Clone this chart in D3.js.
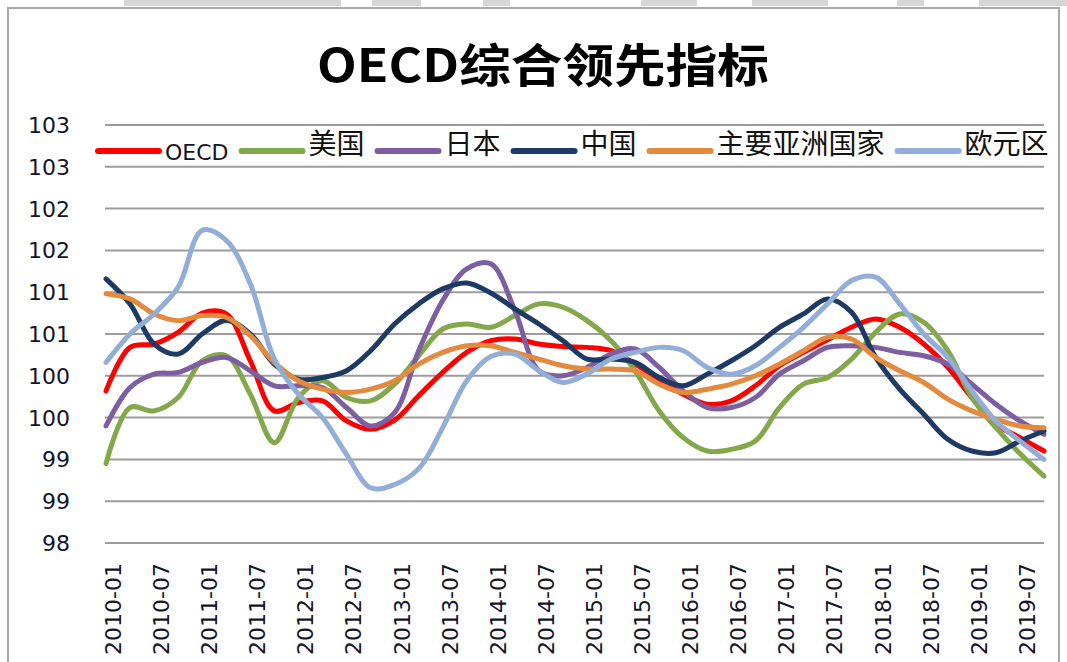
<!DOCTYPE html>
<html lang="zh">

<head>
    <meta charset="UTF-8">
    <title>OECD综合领先指标</title>

    <script src="https://d3js.org/d3.v7.min.js"></script>

    <style>
        body {
            margin: 0;
            background: #fff;
        }

        .tick-label {
            font-family: "DejaVu Sans", Verdana, sans-serif;
            font-size: 22px;
            fill: #141428;
        }

        .legend-cjk {
            font-family: "Noto Sans CJK SC", sans-serif;
            font-size: 28px;
            fill: #111;
        }

        .legend-latin {
            font-family: "DejaVu Sans", Verdana, sans-serif;
            font-size: 22px;
            fill: #141428;
        }
    </style>

</head>

<body>
    <svg width="1067" height="662"></svg>

    <script>
        // months on the category axis, 2010-01 .. 2019-10
        const months = [];
        for (let y = 2010; y <= 2019; y++) {
            for (let m = 1; m <= 12; m++) {
                if (y === 2019 && m > 10) break;
                months.push(y + "-" + String(m).padStart(2, "0"));
            }
        }
        // values (Jan, Apr, Jul, Oct)
        const sampleMonths = months.filter((d, i) => i % 3 === 0);

        const seriesNames = ["OECD", "美国", "日本", "中国", "主要亚洲国家", "欧元区"];
        const seriesColors = ["#ff0000", "#82a84a", "#7d5fa1", "#1c3a63", "#e38a3e", "#93aed6"];

        const oecd = [99.82, 100.34, 100.38, 100.52, 100.75, 100.74, 100.18, 99.58, 99.68, 99.70,
            99.46, 99.36, 99.47, 99.76, 100.04, 100.28, 100.42, 100.44, 100.38, 100.35,
            100.34, 100.30, 100.14, 99.96, 99.78, 99.66, 99.70, 99.88, 100.12, 100.28,
            100.43, 100.58, 100.68, 100.58, 100.38, 100.10, 99.74, 99.42, 99.26, 99.10];
        const usa = [98.95, 99.62, 99.58, 99.74, 100.18, 100.24, 99.78, 99.20, 99.74, 99.94,
            99.74, 99.70, 99.90, 100.24, 100.56, 100.62, 100.58, 100.72, 100.86, 100.82,
            100.66, 100.42, 100.06, 99.58, 99.26, 99.10, 99.12, 99.22, 99.62, 99.90,
            99.98, 100.20, 100.52, 100.74, 100.64, 100.30, 99.74, 99.38, 99.07, 98.80];
        const japan = [99.40, 99.86, 100.02, 100.04, 100.16, 100.22, 100.06, 99.88, 99.88, 99.86,
            99.62, 99.40, 99.56, 100.30, 100.90, 101.28, 101.34, 100.78, 100.06, 100.00,
            100.10, 100.26, 100.32, 100.10, 99.82, 99.62, 99.62, 99.74, 100.02, 100.18,
            100.34, 100.36, 100.34, 100.28, 100.24, 100.14, 99.90, 99.66, 99.46, 99.30];
        const china = [101.16, 100.86, 100.38, 100.26, 100.50, 100.66, 100.50, 100.14, 99.96, 99.98,
            100.06, 100.30, 100.62, 100.86, 101.04, 101.11, 100.99, 100.80, 100.62, 100.42,
            100.20, 100.20, 100.16, 99.98, 99.88, 100.02, 100.18, 100.36, 100.58, 100.74,
            100.92, 100.76, 100.22, 99.84, 99.54, 99.24, 99.10, 99.08, 99.22, 99.34];
        const asia = [100.98, 100.92, 100.74, 100.66, 100.72, 100.70, 100.48, 100.16, 99.94, 99.84,
            99.80, 99.84, 99.94, 100.14, 100.28, 100.36, 100.36, 100.28, 100.20, 100.12,
            100.08, 100.08, 100.06, 99.90, 99.80, 99.84, 99.90, 100.00, 100.14, 100.30,
            100.46, 100.44, 100.22, 100.06, 99.92, 99.72, 99.58, 99.48, 99.40, 99.38];
        const euro = [100.16, 100.50, 100.74, 101.06, 101.74, 101.62, 101.10, 100.20, 99.78, 99.50,
            99.06, 98.66, 98.70, 98.89, 99.38, 99.94, 100.23, 100.26, 100.06, 99.92,
            100.02, 100.20, 100.28, 100.34, 100.30, 100.10, 100.02, 100.12, 100.34, 100.58,
            100.86, 101.14, 101.18, 100.86, 100.50, 100.22, 99.82, 99.46, 99.22, 99.00];
        const seriesValues = [oecd, usa, japan, china, asia, euro];

        const yTicks = [98, 98.5, 99, 99.5, 100, 100.5, 101, 101.5, 102, 102.5, 103];
        const yTickLabels = ["98", "99", "99", "100", "100", "101", "101", "102", "102", "103", "103"];
        const xTickLabels = months.filter((d, i) => i % 6 === 0);

        const svg = d3.select("svg");

        // frame of the chart area and the sheet strip above it
        const strip = [[124, 217], [372, 49], [483, 27], [641, 56], [752, 76], [897, 27], [979, 88]];
        svg.selectAll(".strip").data(strip).enter().append("rect")
            .attr("x", d => d[0]).attr("y", 0).attr("width", d => d[1]).attr("height", 6)
            .attr("fill", "#d6d6d6");
        svg.append("rect")
            .attr("x", 8).attr("y", 8).attr("width", 1051).attr("height", 680)
            .attr("fill", "#fff").attr("stroke", "#a8a8a8").attr("stroke-width", 2);

        const x = d3.scalePoint().domain(months).range([106, 1044]);
        const y = d3.scaleLinear().domain([98, 103]).range([543, 125]);

        // gridlines
        svg.append("g").selectAll("line").data(yTicks).enter().append("line")
            .attr("x1", 105).attr("x2", 1044)
            .attr("y1", d => y(d)).attr("y2", d => y(d))
            .attr("stroke", "#9c9c9c").attr("stroke-width", 2);

        // y tick labels
        svg.append("g").selectAll("text").data(yTicks).enter().append("text")
            .attr("class", "tick-label")
            .attr("x", 70).attr("y", d => y(d)).attr("dy", "0.36em")
            .attr("text-anchor", "end")
            .text((d, i) => yTickLabels[i]);

        // x tick labels, rotated
        svg.append("g").selectAll("text").data(xTickLabels).enter().append("text")
            .attr("class", "tick-label")
            .attr("transform", d => `translate(${x(d) + 7},563) rotate(-90)`)
            .attr("dy", "0.36em")
            .attr("text-anchor", "end")
            .text(d => d);

        // series lines
        const line = d3.line()
            .x((d, i) => x(sampleMonths[i]))
            .y(d => y(d))
            .curve(d3.curveCatmullRom.alpha(0.5));

        svg.append("g").selectAll("path").data(seriesValues).enter().append("path")
            .attr("d", d => line(d))
            .attr("fill", "none")
            .attr("stroke", (d, i) => seriesColors[i])
            .attr("stroke-width", 5)
            .attr("stroke-linejoin", "round")
            .attr("stroke-linecap", "round");

        // title
        svg.append("text")
            .attr("x", 543).attr("y", 82)
            .attr("text-anchor", "middle")
            .attr("font-family", "'Noto Sans CJK SC', sans-serif")
            .attr("font-weight", "bold")
            .attr("font-size", 46)
            .attr("textLength", 452)
            .attr("lengthAdjust", "spacingAndGlyphs")
            .attr("fill", "#000")
            .text("OECD综合领先指标");

        // legend
        const legend = svg.append("g");
        let lx = 98;
        seriesNames.forEach(function (name, i) {
            legend.append("line")
                .attr("x1", lx).attr("x2", lx + 61)
                .attr("y1", 151).attr("y2", 151)
                .attr("stroke", seriesColors[i])
                .attr("stroke-width", 6)
                .attr("stroke-linecap", "round");
            const latin = /^[A-Z]+$/.test(name);
            const t = legend.append("text")
                .attr("class", latin ? "legend-latin" : "legend-cjk")
                .attr("x", lx + 67)
                .attr("y", latin ? 160 : 154)
                .text(name);
            lx += 67 + t.node().getComputedTextLength() + 13;
        });
    </script>
</body>

</html>
